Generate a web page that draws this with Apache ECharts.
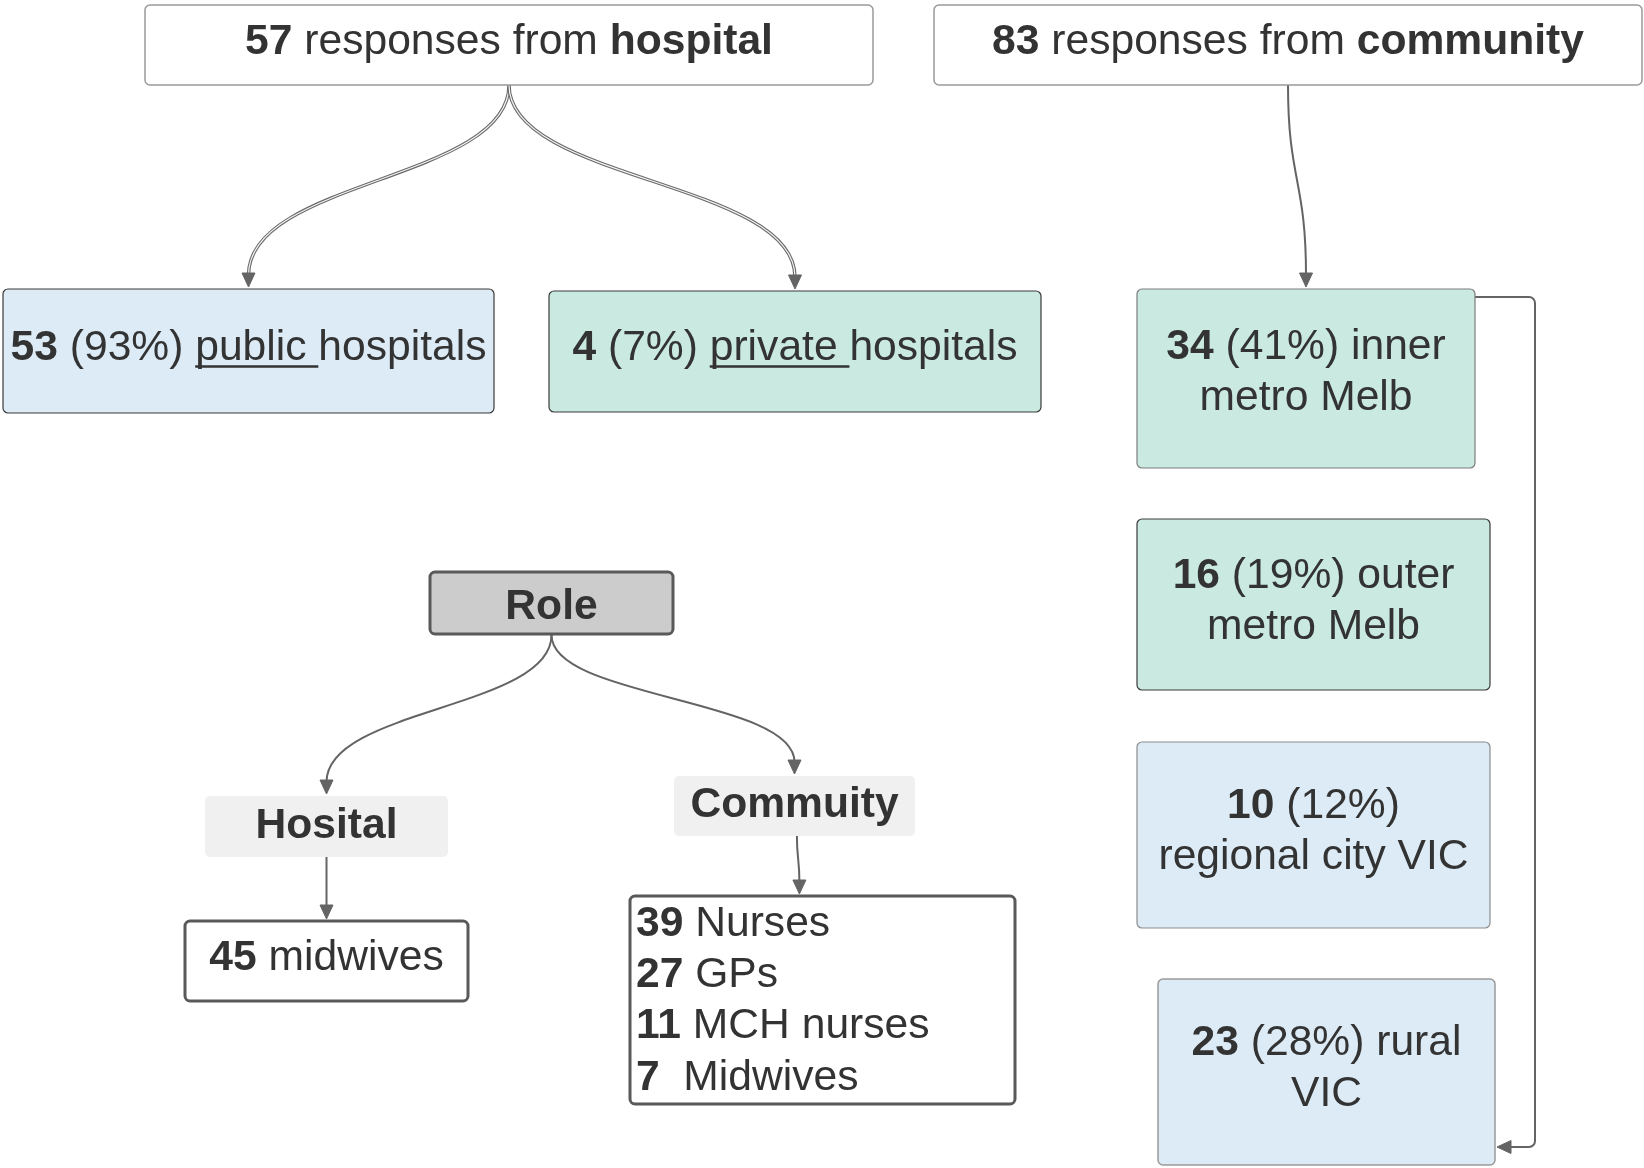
<!DOCTYPE html>
<html><head><meta charset="utf-8">
<script src="https://cdn.jsdelivr.net/npm/echarts@6/dist/echarts.min.js"></script>
<style>html,body{margin:0;padding:0;background:#fff}#c{width:1644px;height:1168px}</style>
</head><body><div id="c"></div>
<script>
// ---------------- data ----------------
const sourceGroups = ['hospital', 'community'];
const sourceCounts = [57, 83];
const hospitalTypes = ['public', 'private'];
const hospitalTypeCounts = [53, 4];
const hospitalTypePcts = [93, 7];
const regionNames = ['inner metro Melb', 'outer metro Melb', 'regional city VIC', 'rural VIC'];
const regionCounts = [34, 16, 10, 23];
const regionPcts = [41, 19, 12, 28];
const roleTitle = 'Role';
const roleGroups = ['Hosital', 'Commuity'];
const hospitalRoles = ['midwives'];
const hospitalRoleCounts = [45];
const communityRoles = ['Nurses', 'GPs', 'MCH nurses', 'Midwives'];
const communityRoleCounts = [39, 27, 11, 7];

// ---------------- layout (pixel units on hidden axes) ----------------
const FS = 42.6, LH = 51.3;
const FONT = '"Liberation Sans", Arial, Helvetica, sans-serif';
const regionWrap = [1, 1, 0, 1]; // words of region name kept on first line
const layout = [
  {x:145, y:5,   w:728, h:80,  ty:42.5},
  {x:934, y:5,   w:708, h:80,  ty:42.5},
  {x:3,   y:289, w:491, h:124, ty:348.5},
  {x:549, y:291, w:492, h:121, ty:348.5},
  {x:1137,y:289, w:338, h:179, ty:373},
  {x:1137,y:519, w:353, h:171, ty:602},
  {x:1137,y:742, w:353, h:186, ty:832},
  {x:1158,y:979, w:337, h:186, ty:1069},
  {x:430, y:572, w:243, h:62,  ty:607},
  {x:205, y:796, w:243, h:61,  ty:826},
  {x:674, y:776, w:241, h:60,  ty:805},
  {x:185, y:921, w:283, h:80,  ty:958},
  {x:630, y:896, w:385, h:208, ty:1001, left:636}
];
const styles = [
  {fill:'#ffffff', stroke:'#9a9a9a', lw:1.5},
  {fill:'#ffffff', stroke:'#9a9a9a', lw:1.5},
  {fill:'#dcebf5', stroke:'#3a3a3a', lw:1.2},
  {fill:'#c9e9e1', stroke:'#3a3a3a', lw:1.2},
  {fill:'#c9e9e1', stroke:'#7d7d7d', lw:1.2},
  {fill:'#c9e9e1', stroke:'#3a3a3a', lw:1.2},
  {fill:'#dcebf5', stroke:'#8c8c8c', lw:1.2},
  {fill:'#dcebf5', stroke:'#9a9a9a', lw:1.5},
  {fill:'#cccccc', stroke:'#595959', lw:3},
  {fill:'#f0f0f0', stroke:null, lw:0},
  {fill:'#f0f0f0', stroke:null, lw:0},
  {fill:'#ffffff', stroke:'#595959', lw:3},
  {fill:'#ffffff', stroke:'#595959', lw:3}
];
// edges: [from, to, fromFrac, toFrac, kind]
const edges = [
  [0, 2, 0.5, 0.5, 'double'],
  [0, 3, 0.5, 0.5, 'double'],
  [1, 4, 0.5, 0.5, 'single'],
  [4, 7, 0, 0, 'elbow'],
  [8, 9, 0.5, 0.5, 'single'],
  [8, 10, 0.5, 0.5, 'single'],
  [9, 11, 0.5, 0.5, 'single'],
  [10, 12, 0.51, 0.44, 'single']
];

// ---------------- labels from data ----------------
const labels = [];
const underlines = {};
sourceGroups.forEach((g, i) => {
  labels.push('{b|' + sourceCounts[i] + '}{n| responses from }{b|' + g + '}');
});
hospitalTypes.forEach((t, i) => {
  labels.push('{b|' + hospitalTypeCounts[i] + '}{n| (' + hospitalTypePcts[i] + '%) }{n|' + t + ' }{n|hospitals}');
  underlines[2 + i] = [[String(hospitalTypeCounts[i]), true], [' (' + hospitalTypePcts[i] + '%) ', false], [t + ' ', false], ['hospitals', false]];
});
regionNames.forEach((r, i) => {
  const words = r.split(' ');
  const first = words.slice(0, regionWrap[i]).join(' ');
  const rest = words.slice(regionWrap[i]).join(' ');
  labels.push('{b|' + regionCounts[i] + '}{n| (' + regionPcts[i] + '%)' + (first ? ' ' + first : '') + '}\n{n|' + rest + '}');
});
labels.push('{b|' + roleTitle + '}');
roleGroups.forEach(g => labels.push('{b|' + g + '}'));
labels.push('{b|' + hospitalRoleCounts[0] + '}{n| ' + hospitalRoles[0] + '}');
labels.push(communityRoles.map((r, i) => '{b|' + communityRoleCounts[i] + '}{n|' + (communityRoleCounts[i] < 10 ? '  ' : ' ') + r + '}').join('\n'));

const mctx = document.createElement('canvas').getContext('2d');
function tw(t, bold) { mctx.font = (bold ? 'bold ' : '') + FS + 'px ' + FONT; return mctx.measureText(t).width; }
mctx.font = FS + 'px ' + FONT; mctx.textBaseline = 'middle';
const baseOff = mctx.measureText('H').actualBoundingBoxDescent;

const rich = {
  b: {fontWeight: 'bold', fontSize: FS, fontFamily: FONT, fill: '#333333', lineHeight: LH},
  n: {fontWeight: 'normal', fontSize: FS, fontFamily: FONT, fill: '#333333', lineHeight: LH}
};

const LINE = '#646464';

function arrow(tip, dir) {
  const L = 14, W = 6.5;
  const bx = tip[0] - dir[0] * L, by = tip[1] - dir[1] * L;
  const nx = -dir[1], ny = dir[0];
  return {type: 'polygon', shape: {points: [tip, [bx + nx * W, by + ny * W], [bx - nx * W, by - ny * W]]}, style: {fill: LINE, stroke: LINE, lineWidth: 1}};
}

const chart = echarts.init(document.getElementById('c'), null, {renderer: 'canvas'});
chart.setOption({
  animation: false,
  backgroundColor: '#ffffff',
  grid: {left: 0, right: 0, top: 0, bottom: 0},
  xAxis: {type: 'value', min: 0, max: 1644, show: false},
  yAxis: {type: 'value', min: 0, max: 1168, inverse: true, show: false},
  series: [
    {
      type: 'custom', coordinateSystem: 'cartesian2d', silent: true, z: 1,
      data: edges.map((e, i) => [i]),
      renderItem: function (params, api) {
        const e = edges[api.value(0)];
        const A = layout[e[0]], B = layout[e[1]];
        const kind = e[4];
        if (kind === 'elbow') {
          const p1 = api.coord([A.x + A.w, A.y + 8]);
          const xr = api.coord([B.x + B.w + 40, 0])[0];
          const p4 = api.coord([B.x + B.w + 2, B.y + B.h - 18]);
          const r = 6;
          return {type: 'group', children: [
            {type: 'polyline', shape: {points: [p1, [xr - r, p1[1]]]}, style: {stroke: LINE, lineWidth: 2, fill: null}},
            {type: 'arc', shape: {cx: xr - r, cy: p1[1] + r, r: r, startAngle: -Math.PI / 2, endAngle: 0}, style: {stroke: LINE, lineWidth: 2, fill: null}},
            {type: 'polyline', shape: {points: [[xr, p1[1] + r], [xr, p4[1] - r]]}, style: {stroke: LINE, lineWidth: 2, fill: null}},
            {type: 'arc', shape: {cx: xr - r, cy: p4[1] - r, r: r, startAngle: 0, endAngle: Math.PI / 2}, style: {stroke: LINE, lineWidth: 2, fill: null}},
            {type: 'polyline', shape: {points: [[xr - r, p4[1]], [p4[0] + 12, p4[1]]]}, style: {stroke: LINE, lineWidth: 2, fill: null}},
            arrow(p4, [-1, 0])
          ]};
        }
        const s = api.coord([A.x + A.w * e[2], A.y + A.h + (styles[e[0]].lw > 2 ? 1 : 0)]);
        const t = api.coord([B.x + B.w * e[3], B.y - 2]);
        const endY = t[1] - 12;
        const k = (endY - s[1]) * 0.5;
        const shape = {x1: s[0], y1: s[1], cpx1: s[0], cpy1: s[1] + k, cpx2: t[0], cpy2: endY - k, x2: t[0], y2: endY};
        const children = [];
        if (kind === 'double') {
          children.push({type: 'bezierCurve', shape: shape, style: {stroke: '#6a6a6a', lineWidth: 3.4, fill: null}});
          children.push({type: 'bezierCurve', shape: shape, style: {stroke: '#f4f4f4', lineWidth: 1.2, fill: null}});
        } else {
          children.push({type: 'bezierCurve', shape: shape, style: {stroke: LINE, lineWidth: 2, fill: null}});
        }
        children.push(arrow(t, [0, 1]));
        return {type: 'group', children: children};
      }
    },
    {
      type: 'custom', coordinateSystem: 'cartesian2d', silent: true, z: 2,
      data: layout.map((l, i) => [i]),
      renderItem: function (params, api) {
        const i = api.value(0);
        const L = layout[i], S = styles[i];
        const p0 = api.coord([L.x, L.y]);
        const p1 = api.coord([L.x + L.w, L.y + L.h]);
        const children = [{
          type: 'rect',
          shape: {x: p0[0], y: p0[1], width: p1[0] - p0[0], height: p1[1] - p0[1], r: 5},
          style: {fill: S.fill, stroke: S.stroke || null, lineWidth: S.lw}
        }];
        const tyc = api.coord([0, L.ty])[1];
        const tx = L.left != null ? api.coord([L.left, 0])[0] : (p0[0] + p1[0]) / 2;
        children.push({
          type: 'text',
          style: {
            text: labels[i], x: tx, y: tyc,
            align: L.left != null ? 'left' : 'center', verticalAlign: 'middle',
            textAlign: L.left != null ? 'left' : 'center', textVerticalAlign: 'middle',
            fontSize: FS, fontFamily: FONT, fill: '#333333', lineHeight: LH, rich: rich
          }
        });
        if (underlines[i]) {
          const parts = underlines[i];
          const widths = parts.map(p => tw(p[0], p[1]));
          const total = widths.reduce((a, b) => a + b, 0);
          const ux0 = tx - total / 2 + widths[0] + widths[1];
          const uy = tyc + baseOff + 5;
          children.push({type: 'rect', shape: {x: ux0, y: uy, width: widths[2], height: 2.6}, style: {fill: '#333333'}});
        }
        return {type: 'group', children: children};
      }
    }
  ]
});
</script></body></html>
